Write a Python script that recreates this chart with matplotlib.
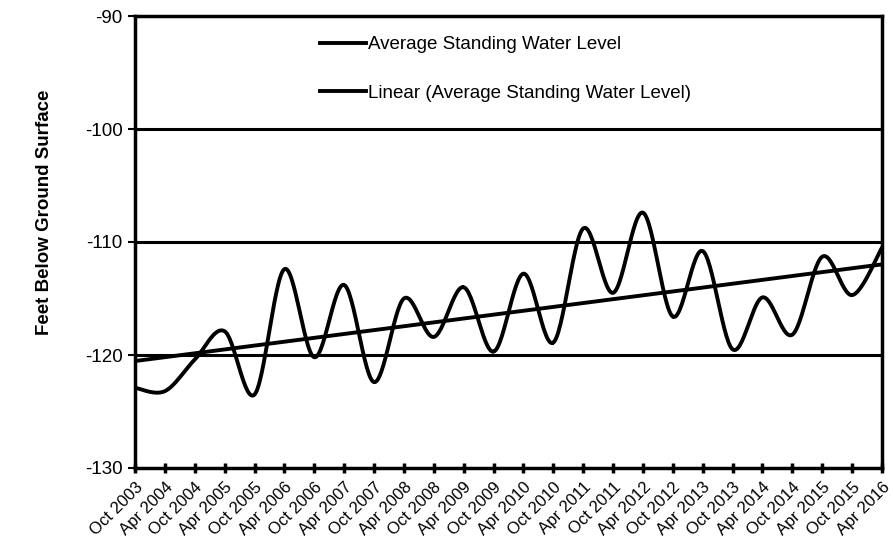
import numpy as np
import matplotlib.pyplot as plt

plt.rcParams['font.family'] = ['Liberation Sans', 'DejaVu Sans']
plt.rcParams['axes.unicode_minus'] = False

# Fechas de muestreo (semestrales)
fechas = ['Oct 2003', 'Apr 2004', 'Oct 2004', 'Apr 2005', 'Oct 2005', 'Apr 2006',
          'Oct 2006', 'Apr 2007', 'Oct 2007', 'Apr 2008', 'Oct 2008', 'Apr 2009',
          'Oct 2009', 'Apr 2010', 'Oct 2010', 'Apr 2011', 'Oct 2011', 'Apr 2012',
          'Oct 2012', 'Apr 2013', 'Oct 2013', 'Apr 2014', 'Oct 2014', 'Apr 2015',
          'Oct 2015', 'Apr 2016']

# Nivel promedio del agua (pies bajo la superficie)
nivel = [-122.9, -123.2, -120.4, -117.9, -123.5, -112.4, -120.2, -113.8, -122.4,
         -115.0, -118.4, -114.0, -119.7, -112.8, -118.9, -108.8, -114.5, -107.4,
         -116.6, -110.8, -119.5, -114.9, -118.2, -111.3, -114.7, -110.5]

y_ticks = [-130, -120, -110, -100, -90]


# Curva suavizada tipo Excel (Catmull-Rom) solo para dibujar
def suavizar(x, y, n=30):
    x = np.asarray(x, float)
    y = np.asarray(y, float)
    px = np.concatenate([[x[0]], x, [x[-1]]])
    py = np.concatenate([[y[0]], y, [y[-1]]])
    xs, ys = [], []
    t = np.linspace(0, 1, n)
    for i in range(1, len(px) - 2):
        p0, p1, p2, p3 = py[i - 1], py[i], py[i + 1], py[i + 2]
        q0, q1, q2, q3 = px[i - 1], px[i], px[i + 1], px[i + 2]
        ys.append(0.5 * ((2 * p1) + (-p0 + p2) * t + (2 * p0 - 5 * p1 + 4 * p2 - p3) * t ** 2
                         + (-p0 + 3 * p1 - 3 * p2 + p3) * t ** 3))
        xs.append(0.5 * ((2 * q1) + (-q0 + q2) * t + (2 * q0 - 5 * q1 + 4 * q2 - q3) * t ** 2
                         + (-q0 + 3 * q1 - 3 * q2 + q3) * t ** 3))
    return np.concatenate(xs), np.concatenate(ys)


x = np.arange(len(fechas))
xs, ys = suavizar(x, nivel)

# Linea de tendencia lineal
m, b = np.polyfit(x, nivel, 1)

fig = plt.figure(figsize=(8.93, 5.44), dpi=100)
ax = fig.add_axes([135 / 893, 76 / 544, 747 / 893, 452 / 544])

for yv in [-120, -110, -100]:
    ax.axhline(yv, color='black', lw=2.2, zorder=1)

ax.plot(xs, ys, color='black', lw=2.8, label='Average Standing Water Level', zorder=3)
ax.plot(x, m * x + b, color='black', lw=2.8, label='Linear (Average Standing Water Level)', zorder=2)

ax.set_xlim(0, len(fechas) - 1)
ax.set_ylim(-130, -90)
ax.set_yticks(y_ticks)
ax.set_xticks(x)
ax.set_xticklabels(fechas, rotation=45, ha='right', rotation_mode='anchor')

for s in ax.spines.values():
    s.set_linewidth(2.5)
ax.tick_params(axis='x', direction='inout', length=7, width=2.5, labelsize=12, pad=5)
ax.tick_params(axis='y', direction='out', length=5, width=1.5, labelsize=13.5, pad=4)

ax.set_ylabel('Feet Below Ground Surface', fontsize=13.5, fontweight='bold')
ax.yaxis.set_label_coords(-0.11, 0.565)

ax.legend(loc='upper left', bbox_to_anchor=(0.2477, 0.955), frameon=False,
          fontsize=13.5, handlelength=2.45, handletextpad=0.1, labelspacing=1.65,
          borderaxespad=0, borderpad=0)

fig.savefig('out.png', dpi=100)
